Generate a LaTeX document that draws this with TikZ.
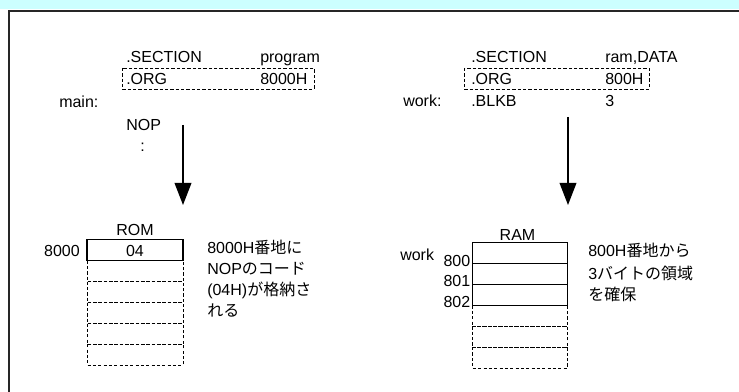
\documentclass[tikz,border=0pt]{standalone}
\usepackage{fontspec}
\setmainfont{Liberation Sans}
\newfontfamily\cjk{Noto Sans CJK JP}
\usetikzlibrary{arrows.meta}
\definecolor{band}{HTML}{CCFFFF}
\begin{document}
\begin{tikzpicture}[x=0.75pt,y=-0.75pt,
  txt/.style={anchor=base west,inner sep=0pt,font=\fontsize{12pt}{16pt}\selectfont},
  rtxt/.style={anchor=base east,inner sep=0pt,font=\fontsize{12pt}{16pt}\selectfont},
  ctxt/.style={anchor=base,inner sep=0pt,font=\fontsize{12pt}{16pt}\selectfont},
  cell/.style={draw,line width=0.9pt},
  dcell/.style={draw,line width=0.6pt,dash pattern=on 2.4pt off 1.6pt},
  orgbox/.style={draw,line width=0.6pt,dash pattern=on 2.4pt off 1.6pt},
  bigarrow/.style={line width=1.1pt,-{Triangle[length=16.5pt,width=12.5pt]}}]
\useasboundingbox (0,0) rectangle (739,392);
\fill[band] (0,0) rectangle (739,9.5);
\draw[line width=1.6pt,black!85] (740,11) -- (8.8,11) -- (8.8,393);

% ---- left: program section ----
\node[txt] (secL) at (126,63) {.SECTION};
\node[txt] (prog) at (260,63) {program};
\draw[orgbox] (122,68) rectangle (314,89);
\node[txt] (orgL) at (126,85) {.ORG};
\node[txt] (org8000) at (260,85) {8000H};
\node[txt] (mainlbl) at (59,108) {main:};
\node[txt] (nop) at (126,131) {NOP};
\node[txt] (dots) at (140,152) {:};

\coordinate (aLs) at (183,125);
\coordinate (aLe) at (183,205);
\draw[bigarrow] (aLs) -- (aLe);

\node[ctxt] (rom) at (135,235) {ROM};
\node[rtxt] (a8000) at (80,257) {8000};
\draw[cell] (87,239.3) rectangle (183,260.7);
\node[ctxt] (c04) at (135,257) {04};
\foreach \y in {260.7,281.7,302.7,323.5,344.2}
  \draw[dcell] (87,\y) rectangle (183,\y+20.8);

\node[txt] (romA) at (207,253) {8000H{\cjk 番地に}};
\node[txt] (romB) at (207,274) {NOP{\cjk のコード}};
\node[txt] (romC) at (207,295) {(04H){\cjk が格納さ}};
\node[txt] (romD) at (207,316) {{\cjk れる}};

% ---- right: data section ----
\node[txt] (secR) at (471,63) {.SECTION};
\node[txt] (ramdata) at (605,63) {ram,DATA};
\draw[orgbox] (464,68) rectangle (649,89);
\node[txt] (orgR) at (471,85) {.ORG};
\node[txt] (org800) at (605,85) {800H};
\node[txt] (worklbl) at (403,107) {work:};
\node[txt] (blkb) at (471,107) {.BLKB};
\node[txt] (three) at (605,107) {3};

\coordinate (aRs) at (568,117);
\coordinate (aRe) at (568,205);
\draw[bigarrow] (aRs) -- (aRe);

\node[ctxt] (ram) at (517.5,240) {RAM};
\draw[cell] (472.3,242.3) rectangle (567.5,263.3);
\draw[cell] (472.3,263.3) rectangle (567.5,284.3);
\draw[cell] (472.3,284.3) rectangle (567.5,305.5);
\foreach \y in {305.5,326.3,347.1}
  \draw[dcell] (472.3,\y) rectangle (567.5,\y+20.8);
\node[txt] (work) at (400,260) {work};
\node[rtxt] (a800) at (470.5,266.5) {800};
\node[rtxt] (a801) at (470.5,286.5) {801};
\node[rtxt] (a802) at (470.5,307) {802};

\node[txt] (ramA) at (588,257) {800H{\cjk 番地から}};
\node[txt] (ramB) at (588,279) {3{\cjk バイトの領域}};
\node[txt] (ramC) at (588,300) {{\cjk を確保}};
\end{tikzpicture}
\end{document}
